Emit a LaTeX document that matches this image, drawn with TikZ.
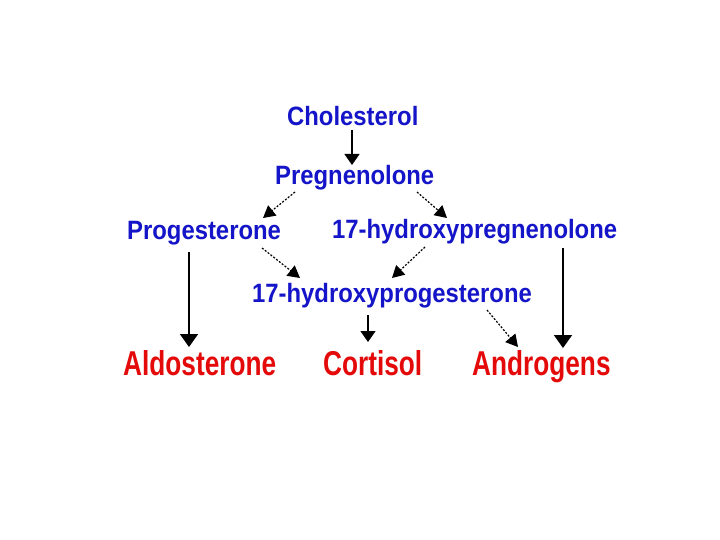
\documentclass[tikz,border=0pt]{standalone}
\usepackage{fontspec}
\usetikzlibrary{arrows.meta}
\newfontfamily\bluefont[FakeStretch=0.9]{Liberation Sans}
\newfontfamily\redfont[FakeStretch=0.76]{Liberation Sans}
\definecolor{hblue}{RGB}{20,20,200}
\definecolor{hred}{RGB}{228,10,10}
\tikzset{
  bluetxt/.style={anchor=base west, inner sep=0pt, text=hblue, font=\bluefont\bfseries\fontsize{26.5}{28}\selectfont},
  redtxt/.style={anchor=base west, inner sep=0pt, text=hred, font=\redfont\bfseries\fontsize{34.5}{36}\selectfont},
  solidarr/.style={draw=black, line width=1.8pt, -{Triangle[width=18pt,length=13pt]}},
  smallarr/.style={draw=black, line width=1.3pt, -{Triangle[width=15pt,length=11pt]}},
  dotarr/.style={draw=black, line width=1.2pt, dash pattern=on 2pt off 1.6pt, -{Triangle[width=13pt,length=12pt]}}
}
\begin{document}
\begin{tikzpicture}[x=1pt,y=-1pt]
\path[fill=white] (0,0) rectangle (720,540);
\useasboundingbox (0,0) rectangle (720,540);
\node[bluetxt] (chol) at (287,126) {Cholesterol};
\node[bluetxt] (preg) at (275,185) {Pregnenolone};
\node[bluetxt] (prog) at (127,240) {Progesterone};
\node[bluetxt] (ohpreg) at (332,239) {17-hydroxypregnenolone};
\node[bluetxt] (ohprog) at (252,302) {17-hydroxyprogesterone};
\node[redtxt] (aldo) at (123,375) {Aldosterone};
\node[redtxt] (cort) at (323,375) {Cortisol};
\node[redtxt] (andr) at (472,375) {Androgens};
\draw[smallarr] ([xshift=65pt,yshift=-4pt]chol.base west) -- ([xshift=77pt,yshift=20pt]preg.base west);
\draw[dotarr] ([xshift=20pt,yshift=-7pt]preg.base west) -- ([xshift=136pt,yshift=22pt]prog.base west);
\draw[dotarr] ([xshift=142pt,yshift=-7pt]preg.base west) -- ([xshift=115pt,yshift=21pt]ohpreg.base west);
\draw[solidarr] ([xshift=62pt,yshift=-12pt]prog.base west) -- ([xshift=66pt,yshift=28pt]aldo.base west);
\draw[dotarr] ([xshift=135pt,yshift=-8pt]prog.base west) -- ([xshift=48pt,yshift=24pt]ohprog.base west);
\draw[dotarr] ([xshift=93pt,yshift=-8pt]ohpreg.base west) -- ([xshift=140pt,yshift=24pt]ohprog.base west);
\draw[smallarr] ([xshift=116pt,yshift=-13pt]ohprog.base west) -- ([xshift=45pt,yshift=33pt]cort.base west);
\draw[dotarr] ([xshift=235pt,yshift=-8pt]ohprog.base west) -- ([xshift=46pt,yshift=28pt]andr.base west);
\draw[solidarr] ([xshift=231pt,yshift=-9pt]ohpreg.base west) -- ([xshift=91pt,yshift=27pt]andr.base west);
\end{tikzpicture}
\end{document}
